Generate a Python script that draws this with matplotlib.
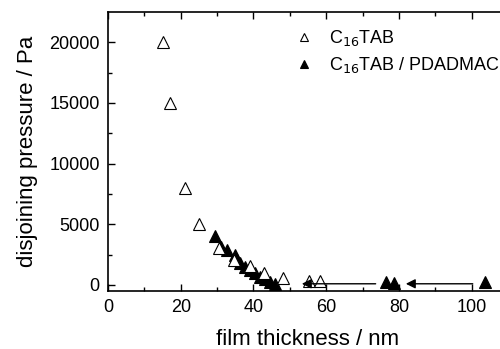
import matplotlib
matplotlib.use("Agg")
import matplotlib.pyplot as plt

plt.rcParams['font.family'] = ['Liberation Sans', 'DejaVu Sans']

# C16TAB (open triangles)
open_x = [15.1, 17.0, 21.2, 25.0, 30.6, 34.6, 39.0, 43.0, 48.0, 55.2, 58.2]
open_y = [20000, 15000, 8000, 5000, 3050, 2100, 1550, 950, 550, 300, 300]

# C16TAB / PDADMAC (filled triangles)
fill_x = [29.5, 31.1, 32.6, 34.9, 35.5, 36.4, 37.7, 39.0, 40.4, 41.8, 43.1, 44.5, 45.9, 76.4, 78.6, 103.8]
fill_y = [4050, 3150, 2850, 2450, 2050, 1800, 1450, 1200, 950, 680, 480, 250, 80, 250, 200, 250]

# Arrows (start x, end x, y)
arrows = [(73.6, 53.3, 100), (100.3, 81.9, 100)]

fig = plt.figure(figsize=(5.0, 3.49), dpi=100)
ax = fig.add_axes([0.216, 0.166, 0.8, 0.8])

ax.plot(open_x, open_y, linestyle='none', marker='^', ms=8.0, mfc='white', mec='black', mew=0.8,
        label='C$_{16}$TAB', zorder=3)
ax.plot(fill_x, fill_y, linestyle='none', marker='^', ms=8.0, mfc='black', mec='black', mew=0.8,
        label='C$_{16}$TAB / PDADMAC', zorder=2)

for x0, x1, yy in arrows:
    ax.annotate('', xy=(x1, yy), xytext=(x0, yy),
                arrowprops=dict(arrowstyle='-|>', color='black', lw=1.0,
                                mutation_scale=14, shrinkA=0, shrinkB=0))

ax.set_xlim(0, 110)
ax.set_ylim(-500, 22500)
ax.set_xticks([0, 20, 40, 60, 80, 100])
ax.set_xticks(range(10, 110, 20), minor=True)
ax.set_yticks([0, 5000, 10000, 15000, 20000])
ax.set_yticks([2500, 7500, 12500, 17500], minor=True)
ax.tick_params(which='both', direction='in', top=True, right=True, labelsize=13)
ax.tick_params(which='major', length=5, width=1, pad=6)
ax.tick_params(which='minor', length=3, width=1)
for s in ax.spines.values():
    s.set_linewidth(1.2)

ax.set_xlabel('film thickness / nm', fontsize=16, labelpad=9)
ax.set_ylabel('disjoining pressure / Pa', fontsize=16, labelpad=8)

leg = ax.legend(loc='upper left', bbox_to_anchor=(0.4225, 1.0), frameon=False, fontsize=13,
                markerscale=0.75, handlelength=1.2, handletextpad=0.8, labelspacing=0.4)

fig.savefig('out.png', dpi=100)
